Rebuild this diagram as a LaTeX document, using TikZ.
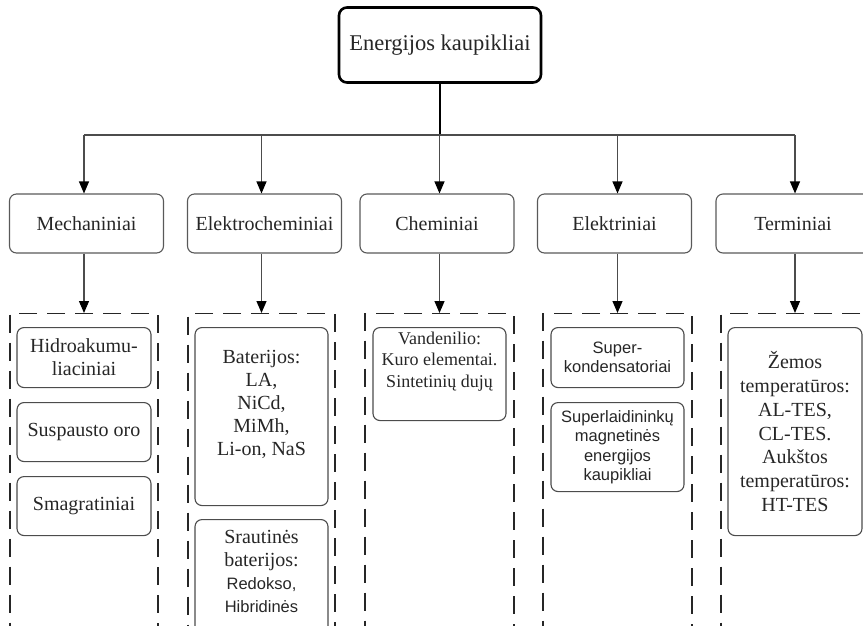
\documentclass[tikz,border=0pt]{standalone}
\usepackage{fontspec}
\setmainfont{Liberation Serif}
\setsansfont{Liberation Sans}
\usetikzlibrary{arrows.meta}
\begin{document}
\begin{tikzpicture}[x=1pt,y=-1pt,
  topbox/.style={draw=black, line width=2.6pt, rounded corners=8pt, minimum width=202pt, minimum height=75pt, inner sep=0pt, font=\fontsize{22.5}{26}\selectfont, text=black!85},
  catbox/.style={draw=black!65, line width=1.1pt, rounded corners=7pt, minimum width=154pt, minimum height=59pt, inner sep=0pt, font=\fontsize{20}{23}\selectfont, text=black!85},
  group/.style={draw=black!85, line width=1.2pt, dash pattern=on 18pt off 10pt, minimum height=347pt, inner sep=0pt, anchor=north},
  itembox/.style={draw=black!70, line width=1.1pt, rounded corners=7pt, inner sep=0pt, align=center, anchor=north, text=black!85, font=\fontsize{20}{23}\selectfont},
  sitem/.style={itembox, font=\sffamily\fontsize{16.5}{19.5}\selectfont},
  txt/.style={align=center, inner sep=0pt, text=black!85, font=\fontsize{20}{23}\selectfont},
  conn/.style={draw=black!70, line width=1.1pt},
  arr/.style={conn, -{Triangle[length=12pt,width=10pt,color=black]}},
]
\useasboundingbox (0,0) rectangle (863,625);
\clip (0,0) rectangle (863,625);

% top
\node[topbox] (top) at (440,45) {Energijos kaupikliai};
\coordinate (bar) at (440,135);

% categories
\node[catbox] (m) at (86.5,223.5) {Mechaniniai};
\node[catbox] (e) at (264.5,223.5) {Elektrocheminiai};
\node[catbox] (c) at (437,223.5) {Cheminiai};
\node[catbox] (l) at (614.5,223.5) {Elektriniai};
\node[catbox] (t) at (793,223.5) {Terminiai};

% dashed groups
\node[group, minimum width=148pt] (dm) at (84,313) {};
\node[group, minimum width=147pt] (de) at (261.5,313) {};
\node[group, minimum width=149pt] (dc) at (439.5,313) {};
\node[group, minimum width=149pt] (dl) at (617.5,313) {};
\node[group, minimum width=148pt] (dt) at (795,313) {};

% Mechaniniai items
\node[itembox, minimum width=134pt, minimum height=60pt] (m1) at (84,327) {Hidroakumu-\\liaciniai};
\node[itembox, minimum width=134pt, minimum height=59pt] (m2) at (84,402) {Suspausto oro};
\node[itembox, minimum width=134pt, minimum height=59pt] (m3) at (84,476) {Smagratiniai};

% Elektrocheminiai items
\node[itembox, minimum width=133pt, minimum height=178pt] (e1) at (261.5,327) {};
\node[txt] (e1t) at (261.5,404.5) {Baterijos:\\LA,\\NiCd,\\MiMh,\\Li-on, NaS};
\node[itembox, minimum width=133pt, minimum height=115pt] (e2) at (261.5,519) {};
\node[txt, anchor=north] (e2t) at (261.5,530) {Srautinės\\baterijos:\\{\sffamily\fontsize{16.5}{21}\selectfont Redokso,}\\{\sffamily\fontsize{16.5}{21}\selectfont Hibridinės}};

% Cheminiai item
\node[itembox, minimum width=133pt, minimum height=93pt] (c1) at (439.5,327) {};
\node[txt, font=\fontsize{18}{21.7}\selectfont] (c1t) at (439.5,361.5) {Vandenilio:\\Kuro elementai.\\Sintetinių dujų};

% Elektriniai items
\node[sitem, minimum width=133pt, minimum height=60pt] (l1) at (617.5,327) {Super-\\kondensatoriai};
\node[sitem, minimum width=133pt, minimum height=89pt] (l2) at (617.5,402) {Superlaidininkų\\magnetinės\\energijos\\kaupikliai};

% Terminiai item
\node[itembox, minimum width=134pt, minimum height=208pt, font=\fontsize{20}{23.7}\selectfont] (t1) at (795,327) {Žemos\\temperatūros:\\AL-TES,\\CL-TES.\\Aukštos\\temperatūros:\\HT-TES};

% connectors
\draw[line width=1.1pt, black] (top.south) -- (bar);
\draw[conn] (bar -| dm.north) -- (bar -| dt.north);
\foreach \g/\k in {dm/m, de/e, dc/c, dl/l, dt/t}{
  \draw[arr] (bar -| \g.north) -- (\k.north -| \g.north);
  \draw[arr] (\k.south -| \g.north) -- (\g.north);
}
\end{tikzpicture}
\end{document}
